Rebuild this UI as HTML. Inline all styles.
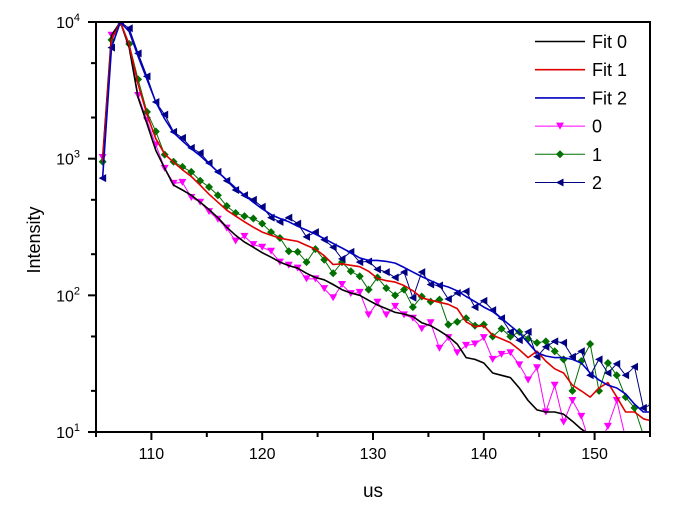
<!DOCTYPE html>
<html><head><meta charset="utf-8"><style>
body{margin:0;background:#fff;}
svg{display:block;font-family:"Liberation Sans",Arial,sans-serif;}
</style></head><body>
<svg id="chart" width="678" height="505" xmlns="http://www.w3.org/2000/svg">
<defs><clipPath id="plotclip"><rect x="96" y="22" width="554" height="410"/></clipPath></defs>
<g id="series" clip-path="url(#plotclip)"></g>
<g id="axes"></g>
<g id="legend"></g>
<text x="40" y="240" font-size="18" text-anchor="middle" transform="rotate(-90 40 240)">Intensity</text>
<text x="373" y="497" font-size="19" text-anchor="middle">us</text>
</svg>
<script>
const xStart = 105.6;
const xStep = 0.8;
const xTicks = [110, 120, 130, 140, 150];
const yTicks = [1, 2, 3, 4];
const fit0 = [1000,8000,10000,6500,2800,1800,1150,850,640,590,540,480,425,370,315,275,245,225,205,190,175,165,158,145,135,130,120,110,104,100,92,85,80,75,73,70,63,60,55,50,44,35,34,32,27,26,25,21,17,14.5,14,14,13.5,12,10.5,9.5,8.5,8,7,6.5,6,5.5];
const fit1 = [950,7400,10000,6800,3500,2100,1400,1080,940,830,740,640,550,480,420,380,345,315,290,275,262,255,248,232,218,195,168,170,166,162,150,133,128,125,118,108,96,92,89,86,80,64,59,60,51,48,45,40,35,39,33,29,27,22,20,18,21,23,18,14,14,12.5,12];
const fit2 = [720,6500,10000,8500,5600,3800,2600,1950,1550,1350,1180,1050,920,800,700,610,540,480,430,390,365,345,320,300,280,260,240,222,205,188,180,180,177,172,160,148,137,128,120,115,108,98,90,82,76,68,60,53,45,38,36,35,35,34,32,27,24,22,21,19,16,14,14];
const data0 = [1020,8000,10000,6800,2900,1900,1260,850,660,670,520,480,410,360,310,250,270,235,225,210,175,166,158,132,132,112,96,120,103,105,72,89,72,83,72,68,57,63,41,49,38,43,44,49,34,37,38,31,24,29.5,14,22,11.8,17,13,8,8,11,17,9,7,6];
const data1 = [950,7400,10000,6900,3800,2200,1580,1070,950,870,800,690,620,540,450,400,380,365,335,290,263,210,208,175,218,182,145,175,150,138,110,135,113,100,110,82,98,90,93,61,64,68,60,61,50,57,50,54,48,45,46,39,34,20,33,44,20,32,26,18,15,9.5];
const data2 = [720,6500,10000,9000,5900,4000,2600,2100,1570,1420,1200,1100,930,800,690,590,540,500,445,370,345,370,335,268,290,255,225,185,208,175,177,155,148,135,148,96,148,120,118,94,104,107,82,91,78,68,54,47,54,35.5,42,46,45,35.5,39,26,34,27,31.5,26,30,15,16];

const NS='http://www.w3.org/2000/svg';
const X0=96,X1=650,Y0=432,Y1=22,XMIN=105,XMAX=155,LMIN=1,LMAX=4;
function sx(v){return X0+(v-XMIN)/(XMAX-XMIN)*(X1-X0);}
function sy(v){return Y0-(Math.log10(v)-LMIN)/(LMAX-LMIN)*(Y0-Y1);}
function mk(tag,attrs,parent){const e=document.createElementNS(NS,tag);for(const k in attrs)e.setAttribute(k,attrs[k]);parent.appendChild(e);return e;}
const gS=document.getElementById('series'),gA=document.getElementById('axes'),gL=document.getElementById('legend');
function pts(arr){return arr.map((v,i)=>sx(xStart+i*xStep).toFixed(1)+','+sy(v).toFixed(1)).join(' ');}
function marker(type,cx,cy,color,parent){
  let p;
  if(type==='down') p=mk('polygon',{points:`${cx-4},${cy-3.5} ${cx+4},${cy-3.5} ${cx},${cy+3.5}`,fill:color},parent);
  else if(type==='diamond') p=mk('polygon',{points:`${cx},${cy-4} ${cx+4},${cy} ${cx},${cy+4} ${cx-4},${cy}`,fill:color},parent);
  else p=mk('polygon',{points:`${cx-4},${cy} ${cx+3.5},${cy-4} ${cx+3.5},${cy+4}`,fill:color},parent);
  return p;
}
const dataSeries=[
  {arr:data0,color:'#ff00ff',m:'down',name:'series-0'},
  {arr:data1,color:'#007000',m:'diamond',name:'series-1'},
  {arr:data2,color:'#000080',m:'left',name:'series-2'}];
dataSeries.forEach(s=>{
  const g=mk('g',{},gS);
  
  
  mk('polyline',{points:pts(s.arr),fill:'none',stroke:s.color,'stroke-width':1},g);
  s.arr.forEach((v,i)=>{
    const m=marker(s.m,sx(xStart+i*xStep),sy(v),s.color,g);
    
    
  });
});
const fits=[{arr:fit0,color:'#000000',name:'fit-0-line'},{arr:fit1,color:'#e00000',name:'fit-1-line'},{arr:fit2,color:'#0000c0',name:'fit-2-line'}];
fits.forEach(f=>{
  const l=mk('polyline',{points:pts(f.arr),fill:'none',stroke:f.color,'stroke-width':1.6,'stroke-linejoin':'round'},gS);
  
  
});
// axes frame
const frame=mk('rect',{x:X0,y:Y1,width:X1-X0,height:Y0-Y1,fill:'none',stroke:'#000','stroke-width':2},gA);


for(let v=105;v<=155;v+=5){
  const big=v%10===0;
  mk('line',{x1:sx(v),x2:sx(v),y1:Y0,y2:Y0+(big?8:5),stroke:'#000','stroke-width':2},gA);
}
xTicks.forEach(v=>{
  const t=mk('text',{x:sx(v),y:Y0+27,'font-size':16,'text-anchor':'middle'},gA);
  t.textContent=v;
  
  
});
yTicks.forEach(p=>{
  const y=sy(Math.pow(10,p));
  mk('line',{x1:X0-8,x2:X0,y1:y,y2:y,stroke:'#000','stroke-width':2},gA);
  if(p<4){[2,5].forEach(m=>{const yy=sy(m*Math.pow(10,p));mk('line',{x1:X0-5,x2:X0,y1:yy,y2:yy,stroke:'#000','stroke-width':2},gA);});}
  const t=mk('text',{x:X0-16,y:y+6,'font-size':16,'text-anchor':'end'},gA);
  t.textContent='10';
  const sup=mk('tspan',{dy:-7,'font-size':11},t);
  sup.textContent=p;
  
  
});
// legend
const legendLabels=['Fit 0','Fit 1','Fit 2','0','1','2'];
const legendColors=['#000000','#e00000','#0000c0','#ff00ff','#007000','#000080'];
const legendMarks=[null,null,null,'down','diamond','left'];
legendLabels.forEach((lab,i)=>{
  const y=41.5+i*28.2;
  const g=mk('g',{},gL);
  
  
  mk('line',{x1:535,x2:585,y1:y,y2:y,stroke:legendColors[i],'stroke-width':legendMarks[i]?1:1.6},g);
  if(legendMarks[i]) marker(legendMarks[i],560,y,legendColors[i],g);
  const t=mk('text',{x:592,y:y+6.5,'font-size':18},g);
  t.textContent=lab;
});
</script>
</body></html>
